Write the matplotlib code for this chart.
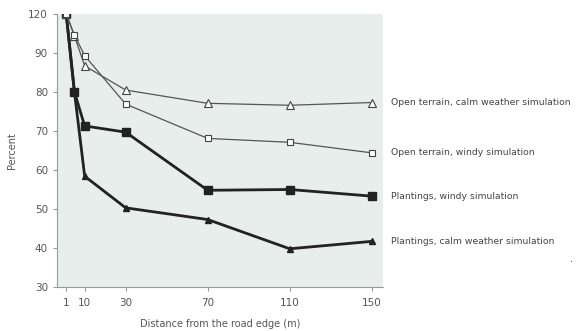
import matplotlib
matplotlib.use("Agg")
import matplotlib.pyplot as plt

# distance from road edge (m)
distance = [1, 5, 10, 30, 70, 110, 150]

# values in plotted units; the axis is broken so the top tick (drawn at 100) reads 120
open_calm = [100, 94.4, 86.7, 80.5, 77.1, 76.6, 77.3]
open_windy = [100, 94.6, 89.3, 76.9, 68.1, 67.1, 64.4]
plant_windy = [100, 80.0, 71.3, 69.7, 54.8, 55.0, 53.3]
plant_calm = [100, 80.0, 58.4, 50.3, 47.3, 39.8, 41.7]

series_names = ["Open terrain, calm weather simulation",
                "Open terrain, windy simulation",
                "Plantings, windy simulation",
                "Plantings, calm weather simulation"]

y_ticks = [30, 40, 50, 60, 70, 80, 90, 100]
y_tick_labels = ["30", "40", "50", "60", "70", "80", "90", "120"]
x_ticks = [1, 10, 30, 70, 110, 150]

fig = plt.figure(figsize=(5.76, 3.31), dpi=100)
ax = fig.add_axes([57 / 576, 1 - 287 / 331, (383 - 57) / 576, (287 - 14) / 331])
ax.set_facecolor("#e7eeec")

# plantings first so the open markers sit on top at the start point
ax.plot(distance, plant_calm, color="#222222", lw=2.0, marker="^", ms=5,
        mfc="#222222", mec="#222222")
ax.plot(distance, plant_windy, color="#222222", lw=2.0, marker="s", ms=5.5,
        mfc="#222222", mec="#222222")
ax.plot(distance, open_calm, color="#555555", lw=0.9, marker="^", ms=6,
        mfc="white", mec="#444444", mew=0.8)
ax.plot(distance, open_windy, color="#555555", lw=0.9, marker="s", ms=4,
        mfc="white", mec="#444444", mew=0.8)

ax.set_xlim(-3.5, 155.5)
ax.set_ylim(30, 100)
ax.set_yticks(y_ticks)
ax.set_yticklabels(y_tick_labels)
ax.set_xticks(x_ticks)
ax.set_xticklabels([str(v) for v in x_ticks])

for s in ["top", "right"]:
    ax.spines[s].set_visible(False)
for s in ["left", "bottom"]:
    ax.spines[s].set_color("#999999")
    ax.spines[s].set_linewidth(0.8)
ax.tick_params(colors="#999999", labelcolor="#555555", labelsize=7.5,
               length=3, width=0.8)
ax.tick_params(axis="x", pad=5)

ax.set_ylabel("Percent", fontsize=7, color="#555555", labelpad=8)
ax.set_xlabel("Distance from the road edge (m)", fontsize=7, color="#555555",
              labelpad=8)

# labels to the right of each line end
label_y = [open_calm[-1], open_windy[-1], plant_windy[-1], plant_calm[-1]]
for name, yv in zip(series_names, label_y):
    ax.annotate(name, xy=(1.0, yv), xycoords=("axes fraction", "data"),
                xytext=(6, 0), textcoords="offset points",
                fontsize=6.7, color="#444444", va="center", ha="left",
                annotation_clip=False)

fig.text(570 / 576, 1 - 262 / 331, ".", fontsize=7, color="#444444")

fig.savefig("out.png", dpi=100)
